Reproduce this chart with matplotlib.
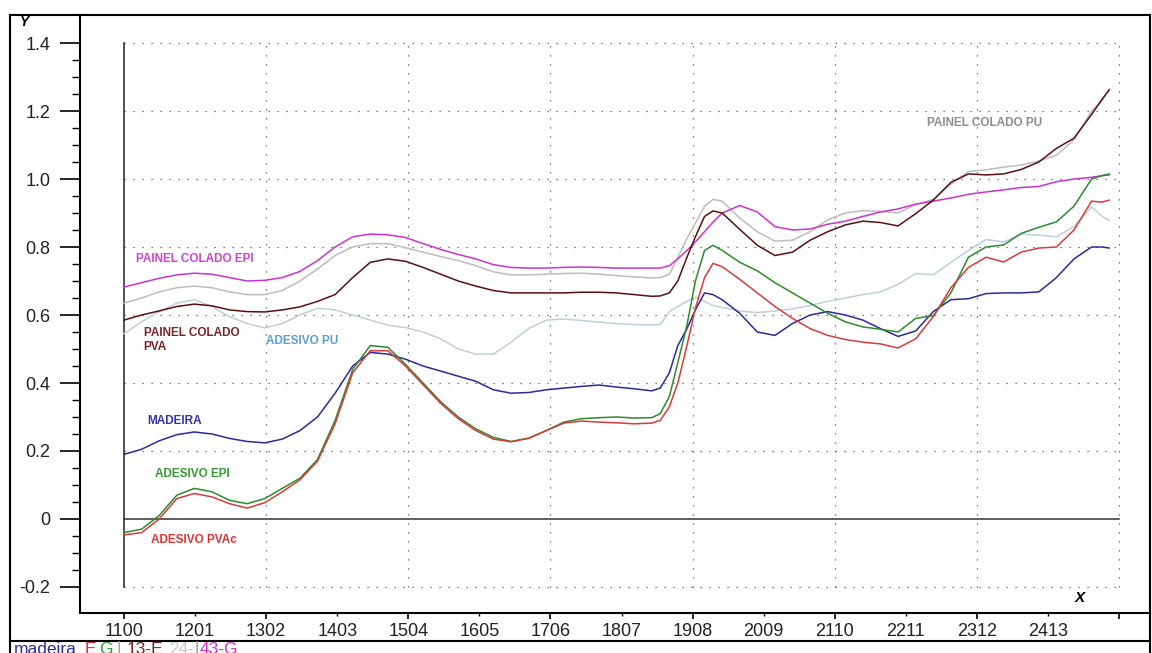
import numpy as np
import matplotlib
matplotlib.use("Agg")
import matplotlib.pyplot as plt
from matplotlib.lines import Line2D
from matplotlib.ticker import FixedLocator, FixedFormatter

plt.rcParams["font.family"] = ["Liberation Sans", "DejaVu Sans"]

# comprimento de onda (eixo X)
x = [1100, 1125, 1150, 1175, 1200, 1225, 1250, 1275, 1300, 1325, 1350, 1375,
     1400, 1425, 1450, 1475, 1500, 1525, 1550, 1575, 1600, 1625, 1650, 1675,
     1700, 1725, 1750, 1775, 1800, 1825, 1850, 1862, 1875, 1887, 1900, 1912,
     1925, 1937, 1950, 1975, 2000, 2025, 2050, 2075, 2100, 2125, 2150, 2175,
     2200, 2225, 2250, 2275, 2300, 2325, 2350, 2375, 2400, 2425, 2450, 2475,
     2490, 2500]

madeira = [0.19, 0.205, 0.23, 0.248, 0.256, 0.25, 0.237, 0.228, 0.224, 0.235, 0.26, 0.30,
           0.37, 0.45, 0.49, 0.485, 0.47, 0.45, 0.435, 0.42, 0.405, 0.38, 0.37, 0.372,
           0.38, 0.385, 0.39, 0.394, 0.388, 0.383, 0.377, 0.385, 0.43, 0.51, 0.56, 0.615,
           0.665, 0.66, 0.645, 0.605, 0.55, 0.54, 0.575, 0.6, 0.61, 0.6, 0.585, 0.56,
           0.537, 0.553, 0.61, 0.645, 0.648, 0.663, 0.665, 0.665, 0.668, 0.71, 0.765, 0.8,
           0.8, 0.797]

adesivo_epi = [-0.04, -0.03, 0.01, 0.07, 0.09, 0.08, 0.055, 0.045, 0.06, 0.09, 0.12, 0.175,
               0.29, 0.44, 0.51, 0.505, 0.455, 0.40, 0.345, 0.30, 0.265, 0.24, 0.228, 0.238,
               0.26, 0.285, 0.295, 0.298, 0.3, 0.297, 0.298, 0.31, 0.36, 0.46, 0.57, 0.70,
               0.79, 0.805, 0.79, 0.755, 0.73, 0.695, 0.665, 0.635, 0.605, 0.58, 0.565, 0.558,
               0.55, 0.59, 0.598, 0.665, 0.77, 0.80, 0.806, 0.84, 0.858, 0.874, 0.92, 1.0,
               1.01, 1.015]

adesivo_pvac = [-0.047, -0.04, 0.0, 0.06, 0.075, 0.065, 0.045, 0.032, 0.048, 0.08, 0.115, 0.17,
                0.28, 0.43, 0.495, 0.495, 0.45, 0.395, 0.34, 0.295, 0.26, 0.235, 0.227, 0.237,
                0.26, 0.282, 0.288, 0.285, 0.283, 0.28, 0.282, 0.29, 0.33, 0.40, 0.51, 0.62,
                0.71, 0.752, 0.742, 0.705, 0.665, 0.625, 0.59, 0.56, 0.54, 0.528, 0.52, 0.515,
                0.503, 0.53, 0.595, 0.68, 0.74, 0.77, 0.756, 0.785, 0.797, 0.8, 0.85, 0.935,
                0.932, 0.938]

adesivo_pu = [0.545, 0.58, 0.61, 0.635, 0.645, 0.625, 0.595, 0.575, 0.562, 0.575, 0.6, 0.62,
              0.615, 0.6, 0.585, 0.57, 0.563, 0.55, 0.53, 0.50, 0.485, 0.485, 0.52, 0.56,
              0.585, 0.588, 0.584, 0.579, 0.575, 0.572, 0.571, 0.572, 0.61, 0.625, 0.64, 0.653,
              0.64, 0.628, 0.622, 0.612, 0.607, 0.612, 0.618, 0.628, 0.64, 0.65, 0.66, 0.668,
              0.69, 0.722, 0.718, 0.755, 0.79, 0.822, 0.815, 0.838, 0.835, 0.83, 0.86, 0.918,
              0.89, 0.878]

painel_pu = [0.635, 0.65, 0.668, 0.68, 0.685, 0.68, 0.668, 0.66, 0.66, 0.672, 0.70, 0.735,
             0.775, 0.80, 0.81, 0.81, 0.798, 0.785, 0.772, 0.76, 0.745, 0.727, 0.718, 0.718,
             0.72, 0.722, 0.723, 0.72, 0.716, 0.712, 0.709, 0.71, 0.72, 0.77, 0.825, 0.87,
             0.92, 0.94, 0.935, 0.885, 0.845, 0.817, 0.82, 0.845, 0.88, 0.9, 0.907, 0.905,
             0.9, 0.925, 0.94, 0.985, 1.022, 1.027, 1.035, 1.041, 1.053, 1.07, 1.115, 1.2,
             1.23, 1.265]

painel_pva = [0.585, 0.60, 0.612, 0.625, 0.632, 0.627, 0.615, 0.61, 0.609, 0.615, 0.624, 0.64,
              0.66, 0.71, 0.755, 0.765, 0.758, 0.74, 0.72, 0.70, 0.685, 0.672, 0.665, 0.665,
              0.665, 0.665, 0.667, 0.667, 0.665, 0.66, 0.655, 0.656, 0.665, 0.70, 0.77, 0.83,
              0.89, 0.906, 0.9, 0.852, 0.805, 0.775, 0.785, 0.82, 0.845, 0.865, 0.876, 0.872,
              0.862, 0.898, 0.938, 0.99, 1.015, 1.012, 1.015, 1.028, 1.05, 1.09, 1.12, 1.19,
              1.235, 1.262]

painel_epi = [0.682, 0.695, 0.708, 0.718, 0.723, 0.72, 0.71, 0.70, 0.702, 0.71, 0.728, 0.76,
              0.80, 0.83, 0.838, 0.836, 0.828, 0.81, 0.793, 0.778, 0.765, 0.748, 0.74, 0.738,
              0.738, 0.74, 0.741, 0.74, 0.738, 0.738, 0.738, 0.738, 0.745, 0.765, 0.79, 0.815,
              0.845, 0.873, 0.9, 0.922, 0.903, 0.86, 0.85, 0.853, 0.867, 0.876, 0.89, 0.903,
              0.912, 0.926, 0.935, 0.944, 0.955, 0.962, 0.968, 0.975, 0.978, 0.992, 1.0, 1.005,
              1.01, 1.012]

x_ticks = [1100 + 101 * k for k in range(15)]
x_ticklabels = [str(v) for v in x_ticks[:-1]] + [""]
y_ticks = [-0.2, 0, 0.2, 0.4, 0.6, 0.8, 1.0, 1.2, 1.4]
y_ticklabels = ["-0.2", "0", "0.2", "0.4", "0.6", "0.8", "1.0", "1.2", "1.4"]

W, H = 1152, 653


def fx(px):
    return px / W


def fy(py):
    return 1 - py / H


fig = plt.figure(figsize=(11.52, 6.53), dpi=100)
fig.patch.set_facecolor("white")
ax = fig.add_axes([fx(80), fy(613), fx(1150) - fx(80), fy(15) - fy(613)])
ax.set_xlim(1037.5, 2558)
ax.set_ylim(-0.2765, 1.4824)

for s in ax.spines.values():
    s.set_linewidth(1.5)
    s.set_color("black")

# ticks
ax.yaxis.set_major_locator(FixedLocator(y_ticks))
ax.yaxis.set_major_formatter(FixedFormatter(y_ticklabels))
ax.yaxis.set_minor_locator(FixedLocator([v / 100 for v in range(-15, 140, 5) if v % 20 != 0]))
ax.tick_params(axis="y", which="major", direction="out", length=14.4, width=1.2,
               pad=7, labelsize=13, labelcolor="#222222")
ax.tick_params(axis="y", which="minor", direction="out", length=5.8, width=1.0)

maj_x = x_ticks[::2]
min_x = x_ticks[1::2]
ax.xaxis.set_major_locator(FixedLocator(maj_x))
ax.xaxis.set_major_formatter(FixedFormatter(x_ticklabels[::2]))
ax.xaxis.set_minor_locator(FixedLocator(min_x))
ax.xaxis.set_minor_formatter(FixedFormatter(x_ticklabels[1::2]))
ax.tick_params(axis="x", which="major", direction="out", length=4.5, width=1.2,
               pad=3, labelsize=13, labelcolor="#222222")
ax.tick_params(axis="x", which="minor", direction="out", length=1.8, width=1.0,
               pad=5.7, labelsize=13, labelcolor="#222222")

# dotted grid inside the plot box
gkw = dict(color="#555555", lw=0.9, linestyle=(0, (1, 6.2)), zorder=1)
for yv in y_ticks:
    if yv != 0:
        ax.plot([1100, 2514], [yv, yv], **gkw)
for xv in maj_x[1:]:
    ax.plot([xv, xv], [-0.2, 1.4], **gkw)
ax.plot([1100, 1100], [-0.2, 1.4], color="#222222", lw=1.1, zorder=2)
ax.plot([1100, 2514], [0, 0], color="#333333", lw=1.1, zorder=2)

# series
ax.plot(x, adesivo_pu, color="#bcd0dc", lw=1.1, zorder=3)
ax.plot(x, painel_pu, color="#bdbdbd", lw=1.1, zorder=3)
ax.plot(x, painel_epi, color="#cc33cc", lw=1.1, zorder=4)
ax.plot(x, painel_pva, color="#5a1010", lw=1.1, zorder=4)
ax.plot(x, madeira, color="#2a2a9a", lw=1.1, zorder=4)
ax.plot(x, adesivo_epi, color="#2e8a2e", lw=1.1, zorder=4)
ax.plot(x, adesivo_pvac, color="#d93a3a", lw=1.1, zorder=5)

# series labels
lkw = dict(fontsize=8.5, fontweight="bold", va="center", ha="left")
ax.text(1117, 0.765, "PAINEL COLADO EPI", color="#cc44cc", **lkw)
ax.text(1128, 0.526, "PAINEL COLADO\nPVA", color="#7a2525", linespacing=1.15, **lkw)
ax.text(1302, 0.524, "ADESIVO PU", color="#5b9bd5", **lkw)
ax.text(1133, 0.288, "MADEIRA", color="#3333aa", **lkw)
ax.text(1144, 0.132, "ADESIVO EPI", color="#339933", **lkw)
ax.text(1138, -0.062, "ADESIVO PVAc", color="#dd3333", **lkw)
ax.text(2241, 1.165, "PAINEL COLADO PU", color="#8c8c8c", **lkw)

# axis names
fig.text(fx(24), fy(22), "Y", fontsize=10, fontweight="bold", style="italic",
         ha="center", va="center")
fig.text(fx(1080), fy(598), "X", fontsize=11, fontweight="bold", style="italic",
         ha="center", va="center")

# outer frame
frame = [([10, 10], [15, 653]), ([10, 80], [15, 15]), ([1150, 1150], [613, 653]),
         ([10, 1150], [641, 641])]
for xs, ys in frame:
    fig.add_artist(Line2D([fx(v) for v in xs], [fy(v) for v in ys],
                          transform=fig.transFigure, color="black", lw=1.5))

# legend strip at the bottom
legend_parts = [("madeira", 14, "#2a2a9a"), ("E", 85, "#dd3333"), ("G", 99, "#339933"),
                ("|", 116, "#999999"), ("13-E", 127, "#7a2525"), ("24-", 169, "#c8c8c8"),
                ("|", 194, "#999999"), ("43-G", 200, "#cc33cc")]
for txt, px, col in legend_parts:
    fig.text(fx(px), fy(653.5), txt, fontsize=12.5, color=col, ha="left", va="baseline")

fig.savefig("out.png", dpi=100)
